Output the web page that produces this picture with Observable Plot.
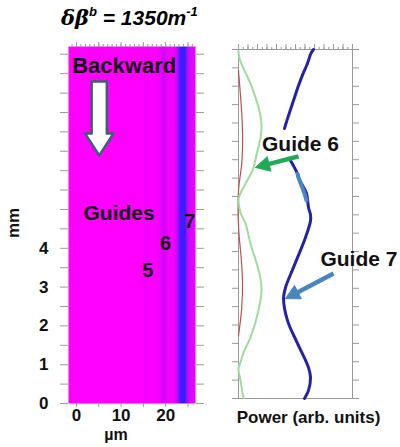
<!DOCTYPE html>
<html><head><meta charset="utf-8">
<script src="https://cdn.jsdelivr.net/npm/d3@7"></script>
<script src="https://cdn.jsdelivr.net/npm/@observablehq/plot@0.6"></script>
<style>
body{margin:0;background:#fff;font-family:"Liberation Sans",Arial,sans-serif;}
#root{position:relative;width:400px;height:447px;overflow:hidden;background:#fff;}
#left,#right{position:absolute;top:0;}
#left{left:0;} #right{left:215px;}
#title{position:absolute;left:61px;top:5px;font-size:21px;font-weight:bold;font-style:italic;z-index:5;white-space:nowrap;}
#title sup{font-size:13px;vertical-align:9px;line-height:0;}
</style></head>
<body>
<div id="root">
  <div id="left"></div>
  <div id="right"></div>
  <div id="title"><span style="font-family:'DejaVu Serif','Liberation Serif',serif;">δβ</span><sup>b</sup> = 1350m<sup>-1</sup></div>
</div>
<script>
// ---------- data ----------
// heat map: field intensity across the guide array (µm), 0 = magenta, 1 = blue
const heatX = [-1.8, 14.5, 15.7, 17, 18.6, 19.6, 20.6, 22.0, 22.7, 23.3, 24.4, 24.9, 25.5, 26.7];
const heatI = [0, 0, 0.06, 0, 0.05, 0.25, 0.05, 0.05, 0.4, 1, 1, 0.35, 0.15, 0.12];
const zTop = 9.2;            // mm, top of the left panel
const zTopR = 9.5;           // mm, top of the right panel
const mmTicks = [0,0.5,1,1.5,2,2.5,3,3.5,4,4.5,5,5.5,6,6.5,7,7.5,8,8.5,9];
const mmTicksR = [0,0.5,1,1.5,2,2.5,3,3.5,4,4.5,5,5.5,6,6.5,7,7.5,8,8.5,9,9.5];
const mmLabels = [0,1,2,3,4];
const umTicks = [0,5,10,15,20,25];
const umLabels = [0,10,20];
const umMinor = [-1,0,1,2,3,4,5,6,7,8,9,10,11,12,13,14,15,16,17,18,19,20,21,22,23,24,25,26];
const powMinor = [0,0.05,0.1,0.15,0.2,0.25,0.3,0.35,0.4,0.45,0.5,0.55,0.6,0.65,0.7,0.75,0.8,0.85,0.9,0.95,1,1.05,1.1,1.15,1.2];
const powMajor = [0,0.1,0.2,0.3,0.4,0.5,0.6,0.7,0.8,0.9,1,1.1,1.2];

// power along z (mm) for each guide
const g7aP = [0.789, 0.76, 0.737, 0.715, 0.684, 0.632, 0.579, 0.526, 0.484];
const g7aZ = [9.50, 9.38, 9.20, 9.05, 8.87, 8.52, 8.11, 7.70, 7.35];
const g7bP = [0.547, 0.621, 0.632, 0.674, 0.716, 0.737, 0.758, 0.758, 0.705, 0.579, 0.495, 0.474, 0.516, 0.621, 0.737, 0.758, 0.737, 0.695];
const g7bZ = [6.48, 6.12, 6.01, 5.80, 5.58, 5.20, 5.00, 4.84, 4.38, 3.57, 3.02, 2.72, 2.12, 1.50, 0.84, 0.57, 0.22, 0];
const g7hP = [0.621, 0.632, 0.663, 0.695, 0.716];
const g7hZ = [6.12, 6.01, 5.80, 5.58, 5.39];
const g6P = [0, 0.011, 0.126, 0.211, 0.242, 0.232, 0.200, 0.147, 0.074, 0.011, 0, 0.021, 0.074, 0.126, 0.221, 0.242, 0.211, 0.126, 0.053, 0.021, 0, 0.021, 0.042, 0.053];
const g6Z = [9.47, 9.25, 8.57, 7.92, 7.48, 7.10, 6.75, 6.21, 5.85, 5.53, 5.39, 5.06, 4.76, 4.22, 3.40, 2.94, 2.40, 1.66, 1.25, 0.98, 0.82, 0.49, 0.16, 0];
const g5P = [0, 0.021, 0.042, 0.032, 0, 0, 0.021, 0.042, 0.032, 0];
const g5Z = [8.93, 8.25, 7.29, 6.34, 5.66, 4.71, 4.03, 3.21, 2.40, 1.71];

// annotations
const leftText = ["Backward", "Guides", "7", "6", "5"];
const leftTextX = [10.7, 9.55, 25.4, 20.0, 16.0];
const leftTextZ = [8.71, 4.90, 4.69, 4.12, 3.43];
const leftTextSize = [22, 21, 20, 20, 20];
const arrowX = [3.4, 6.8, 6.8, 8.3, 5.1, 1.9, 3.4, 3.4];
const arrowZ = [8.3, 8.3, 6.96, 6.96, 6.39, 6.96, 6.96, 8.3];
const rightText = ["Guide 6", "Guide 7"];
const rightTextP = [0.653, 1.268];
const rightTextZ = [6.91, 3.78];
const pointerP1 = [0.632, 1.0], pointerZ1 = [6.59, 3.40];
const pointerP2 = [0.179, 0.495], pointerZ2 = [6.29, 2.72];
const pointerColor = ["#1faa55", "#4a85bb"];

// ---------- build ----------
const RW = 185, RH = 447, RML = 23, RMR = 48, RMT = 49, RMB = 49;
const kx = (RW - RML - RMR) / 1.2, ky = (RH - RMT - RMB) / zTopR; // px per data unit

const heatRows = [];
heatX.forEach((x, i) => { heatRows.push({x, y: 0, v: heatI[i]}); heatRows.push({x, y: zTop, v: heatI[i]}); });
const pts = (P, Z) => P.map((p, i) => ({p, z: Z[i]}));
const arrowPts = arrowX.map((x, i) => ({x, z: arrowZ[i]}));
const lt = leftText.map((t, i) => ({t, x: leftTextX[i], z: leftTextZ[i], s: leftTextSize[i]}));
const rt = rightText.map((t, i) => ({t, p: rightTextP[i], z: rightTextZ[i]}));

// pointer shafts + filled heads
const shafts = [], heads = [];
pointerP1.forEach((p1, i) => {
  const z1 = pointerZ1[i], p2 = pointerP2[i], z2 = pointerZ2[i];
  const dxp = (p2 - p1) * kx, dyp = -(z2 - z1) * ky, L = Math.hypot(dxp, dyp);
  const ux = dxp / L, uy = dyp / L, hl = 14, hw = 7.5;
  const bx = -hl * ux, by = -hl * uy; // base centre offset from tip (px)
  const toP = px => p2 + px / kx, toZ = py => z2 - py / ky;
  shafts.push({x1: p1, y1: z1, x2: toP(bx * 0.8), y2: toZ(by * 0.8), c: pointerColor[i]});
  heads.push([
    {p: p2, z: z2, c: pointerColor[i]},
    {p: toP(bx - hw * uy), z: toZ(by + hw * ux), c: pointerColor[i]},
    {p: toP(bx + hw * uy), z: toZ(by - hw * ux), c: pointerColor[i]},
    {p: p2, z: z2, c: pointerColor[i]}
  ]);
});

const blank = () => "";
const font = {fontFamily: "'Liberation Sans', Arial, sans-serif", fontSize: "17px", fontWeight: "bold", background: "transparent", overflow: "visible"};

const left = Plot.plot({
  width: 215, height: 447,
  marginLeft: 68, marginRight: 20, marginTop: 46, marginBottom: 44,
  style: font,
  x: {domain: [heatX[0], heatX[heatX.length - 1]]},
  y: {domain: [0, zTop]},
  color: {type: "linear", domain: [0, 1], range: ["#ff00ff", "#3a1eff"], interpolate: "rgb"},
  marks: [
    Plot.raster(heatRows, {x: "x", y: "y", fill: "v", interpolate: "barycentric", x1: heatX[0], x2: heatX[heatX.length - 1], y1: 0, y2: zTop}),
    Plot.axisY({ticks: mmTicks, tickSize: 8, tickFormat: blank, stroke: "#999", label: null}),
    Plot.axisY({anchor: "right", ticks: mmTicks, tickSize: 8, tickFormat: blank, stroke: "#999", label: null}),
    Plot.axisY({ticks: mmLabels, tickSize: 0, tickPadding: 20, label: null, fill: "#111"}),
    Plot.axisX({anchor: "top", ticks: umMinor, tickSize: 3, tickFormat: blank, stroke: "#999", label: null}),
    Plot.axisX({anchor: "top", ticks: umTicks, tickSize: 5, tickFormat: blank, stroke: "#999", label: null}),
    Plot.axisX({ticks: umTicks, tickSize: 4, tickFormat: blank, stroke: "#999", label: null}),
    Plot.axisX({ticks: umLabels, tickSize: 0, tickPadding: 5, label: null, fill: "#111"}),
    Plot.text(["mm"], {frameAnchor: "left", dx: -55, dy: 13, rotate: -90, fontSize: 17, fontWeight: "bold", fill: "#111"}),
    Plot.text(["µm"], {frameAnchor: "bottom", dx: -16, dy: 36, fontSize: 16, fontWeight: "bold", fill: "#111"}),
    Plot.line(arrowPts, {x: "x", y: "z", fill: "white", stroke: "#3b6172", strokeWidth: 2.5, curve: "linear"}),
    Plot.text(lt, {x: "x", y: "z", text: "t", fontSize: "s", fontWeight: "bold", fill: "#111"})
  ]
});
document.getElementById("left").append(left);

const right = Plot.plot({
  width: RW, height: RH,
  marginLeft: RML, marginRight: RMR, marginTop: RMT, marginBottom: RMB,
  style: font,
  x: {domain: [0, 1.2]},
  y: {domain: [0, zTopR]},
  marks: [
    Plot.frame({stroke: "#999"}),
    Plot.axisY({ticks: mmTicksR, tickSize: 6, tickFormat: blank, stroke: "#999", label: null}),
    Plot.axisY({anchor: "right", ticks: mmTicksR, tickSize: 6, tickFormat: blank, stroke: "#999", label: null}),
    Plot.axisX({anchor: "top", ticks: powMinor, tickSize: 3, tickFormat: blank, stroke: "#999", label: null}),
    Plot.axisX({anchor: "top", ticks: powMajor, tickSize: 6, tickFormat: blank, stroke: "#999", label: null}),
    Plot.line(pts(g5P, g5Z), {x: "p", y: "z", stroke: "#c0504d", strokeWidth: 1.2, curve: "natural"}),
    Plot.line(pts(g6P, g6Z), {x: "p", y: "z", stroke: "#9edc9a", strokeWidth: 2, curve: "catmull-rom"}),
    Plot.line(pts(g7aP, g7aZ), {x: "p", y: "z", stroke: "#2323a8", strokeWidth: 3, curve: "catmull-rom"}),
    Plot.line(pts(g7bP, g7bZ), {x: "p", y: "z", stroke: "#2323a8", strokeWidth: 3, curve: "catmull-rom"}),
    Plot.line(pts(g7hP, g7hZ), {x: "p", y: "z", stroke: "#4b84c4", strokeWidth: 4, curve: "catmull-rom"}),
    Plot.text(rt, {x: "p", y: "z", text: "t", fontSize: 21, fontWeight: "bold", fill: "#111"}),
    Plot.link(shafts, {x1: "x1", y1: "y1", x2: "x2", y2: "y2", stroke: "c", strokeWidth: 4.5}),
    ...heads.map(h => Plot.line(h, {x: "p", y: "z", fill: "c", stroke: "c", strokeWidth: 1, curve: "linear"})),
    Plot.text(["Power (arb. units)"], {frameAnchor: "bottom", dx: 13, dy: 24, fontSize: 17, fontWeight: "bold", fill: "#111"})
  ]
});
document.getElementById("right").append(right);
</script>
</body></html>
